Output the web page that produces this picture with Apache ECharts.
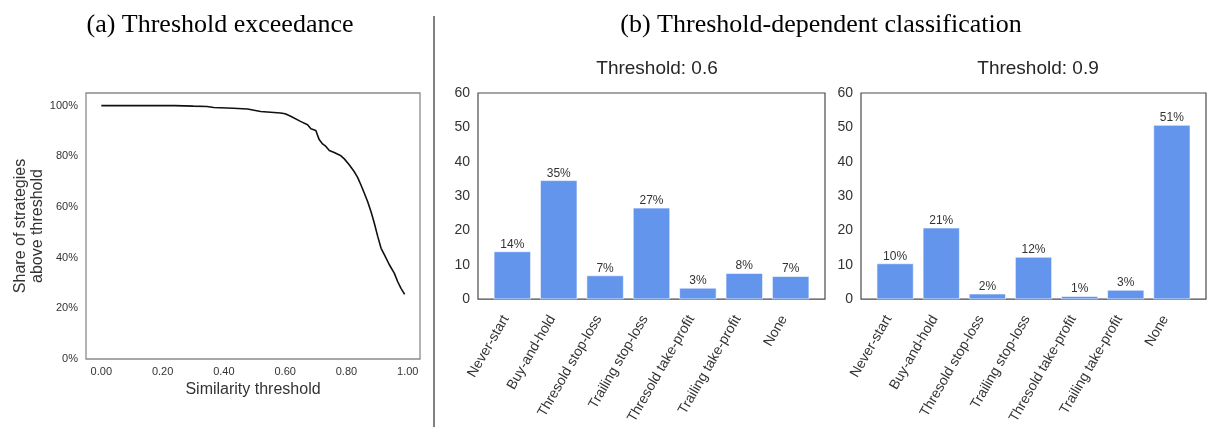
<!DOCTYPE html>
<html>
<head>
<meta charset="utf-8">
<script src="https://cdn.jsdelivr.net/npm/echarts@6/dist/echarts.min.js"></script>
<style>
  html, body { margin: 0; padding: 0; background: #fff; }
  #chart { width: 1207px; height: 427px; }
</style>
</head>
<body>
<div id="chart"></div>
<script>
// (a) share of strategies whose similarity exceeds each threshold
const thresholdX = [0.00, 0.10, 0.24, 0.30, 0.345, 0.367, 0.43, 0.477, 0.52, 0.585, 0.60, 0.618, 0.65, 0.673, 0.684, 0.70,
  0.711, 0.722, 0.733, 0.744, 0.76, 0.782, 0.793, 0.809, 0.825, 0.836, 0.847, 0.858, 0.869, 0.88,
  0.891, 0.902, 0.913, 0.924, 0.94, 0.956, 0.967, 0.978, 0.99];
const shareAbove = [1.000, 1.000, 1.000, 0.998, 0.997, 0.993, 0.990, 0.987, 0.977, 0.971, 0.968, 0.958, 0.938, 0.925, 0.909, 0.902,
  0.866, 0.849, 0.839, 0.823, 0.815, 0.802, 0.790, 0.767, 0.740, 0.718, 0.688, 0.655, 0.622, 0.582,
  0.536, 0.484, 0.437, 0.411, 0.372, 0.339, 0.306, 0.279, 0.255];
const xTicks = [0, 0.2, 0.4, 0.6, 0.8, 1.0];
const yTicks = [0, 0.2, 0.4, 0.6, 0.8, 1.0];

// (b) classification of strategies (percent) at two thresholds
const categories = ['Never-start', 'Buy-and-hold', 'Thresold stop-loss', 'Trailing stop-loss',
  'Thresold take-profit', 'Trailing take-profit', 'None'];
const pctAt06 = [13.9, 34.6, 6.9, 26.6, 3.3, 7.6, 6.7];
const pctAt09 = [10.4, 20.8, 1.6, 12.3, 0.9, 2.7, 50.7];

const SANS = 'Liberation Sans, Arial, sans-serif';
const SERIF = 'Liberation Serif, Times New Roman, serif';
const TXT = '#333333';
const BAR = '#6495ED';

const chart = echarts.init(document.getElementById('chart'), null, { renderer: 'canvas' });

function barXAxis(gridIndex) {
  return {
    type: 'value', gridIndex, min: -0.74, max: 6.74,
    axisLine: { show: false }, axisTick: { show: false }, splitLine: { show: false },
    axisLabel: {
      customValues: categories.map((_, i) => i),
      formatter: v => categories[Math.round(v)],
      rotate: 60, fontSize: 14, color: TXT, fontFamily: SANS, margin: 6,
      padding: [0, 13, 0, 0]
    }
  };
}
function barYAxis(gridIndex) {
  return {
    type: 'value', gridIndex, min: 0, max: 60, interval: 10,
    axisLine: { show: false }, axisTick: { show: false }, splitLine: { show: false },
    axisLabel: { fontSize: 14, color: TXT, fontFamily: SANS, margin: 8 }
  };
}
function barSeries(idx, values) {
  return {
    type: 'bar', xAxisIndex: idx, yAxisIndex: idx,
    data: values.map((v, i) => [i, v]),
    barWidth: '80%',
    itemStyle: { color: BAR, borderColor: '#ffffff', borderWidth: 0.6 },
    label: {
      show: true, position: 'top', distance: 1,
      formatter: p => Math.round(p.value[1]) + '%',
      fontSize: 12, color: TXT, fontFamily: SANS
    },
    silent: true
  };
}

chart.setOption({
  animation: false,
  backgroundColor: '#ffffff',
  title: [
    { text: '(a) Threshold exceedance', left: 215, top: 7, textAlign: 'center',
      textStyle: { fontFamily: SERIF, fontSize: 26, fontWeight: 'normal', color: '#000' } },
    { text: '(b) Threshold-dependent classification', left: 816, top: 7, textAlign: 'center',
      textStyle: { fontFamily: SERIF, fontSize: 26, fontWeight: 'normal', color: '#000' } },
    { text: 'Threshold: 0.6', left: 652, top: 54, textAlign: 'center',
      textStyle: { fontFamily: SANS, fontSize: 19, fontWeight: 'normal', color: '#262626' } },
    { text: 'Threshold: 0.9', left: 1033, top: 54, textAlign: 'center',
      textStyle: { fontFamily: SANS, fontSize: 19, fontWeight: 'normal', color: '#262626' } }
  ],
  grid: [
    { left: 86, top: 93, width: 334, height: 266, show: true, borderColor: '#8a8a8a', borderWidth: 1.3, backgroundColor: 'transparent' },
    { left: 478, top: 93, width: 347, height: 207, show: true, borderColor: '#4a4a4a', borderWidth: 1.2, backgroundColor: 'transparent' },
    { left: 861, top: 93, width: 345, height: 207, show: true, borderColor: '#4a4a4a', borderWidth: 1.2, backgroundColor: 'transparent' }
  ],
  xAxis: [
    {
      type: 'value', gridIndex: 0, min: -0.05, max: 1.04,
      name: 'Similarity threshold', nameLocation: 'middle', nameGap: 20,
      nameTextStyle: { fontSize: 16, color: TXT, fontFamily: SANS },
      axisLine: { show: false }, axisTick: { show: false }, splitLine: { show: false },
      axisLabel: { customValues: xTicks, formatter: v => v.toFixed(2), fontSize: 11, color: TXT, fontFamily: SANS, margin: 7 }
    },
    barXAxis(1), barXAxis(2)
  ],
  yAxis: [
    {
      type: 'value', gridIndex: 0, min: 0, max: 1.05,
      name: 'Share of strategies\nabove threshold', nameLocation: 'middle', nameGap: 40,
      nameTextStyle: { fontSize: 16, lineHeight: 17, color: TXT, fontFamily: SANS },
      axisLine: { show: false }, axisTick: { show: false }, splitLine: { show: false },
      axisLabel: { customValues: yTicks, formatter: v => Math.round(v * 100) + '%', fontSize: 11, color: TXT, fontFamily: SANS, margin: 8 }
    },
    barYAxis(1), barYAxis(2)
  ],
  series: [
    {
      type: 'line', xAxisIndex: 0, yAxisIndex: 0,
      data: thresholdX.map((x, i) => [x, shareAbove[i]]),
      showSymbol: false, lineStyle: { color: '#111111', width: 1.6 }, silent: true
    },
    barSeries(1, pctAt06),
    barSeries(2, pctAt09)
  ],
  graphic: [
    { type: 'line', shape: { x1: 434, y1: 16, x2: 434, y2: 427 }, style: { stroke: '#808080', lineWidth: 2 }, silent: true }
  ]
});
</script>
</body>
</html>
